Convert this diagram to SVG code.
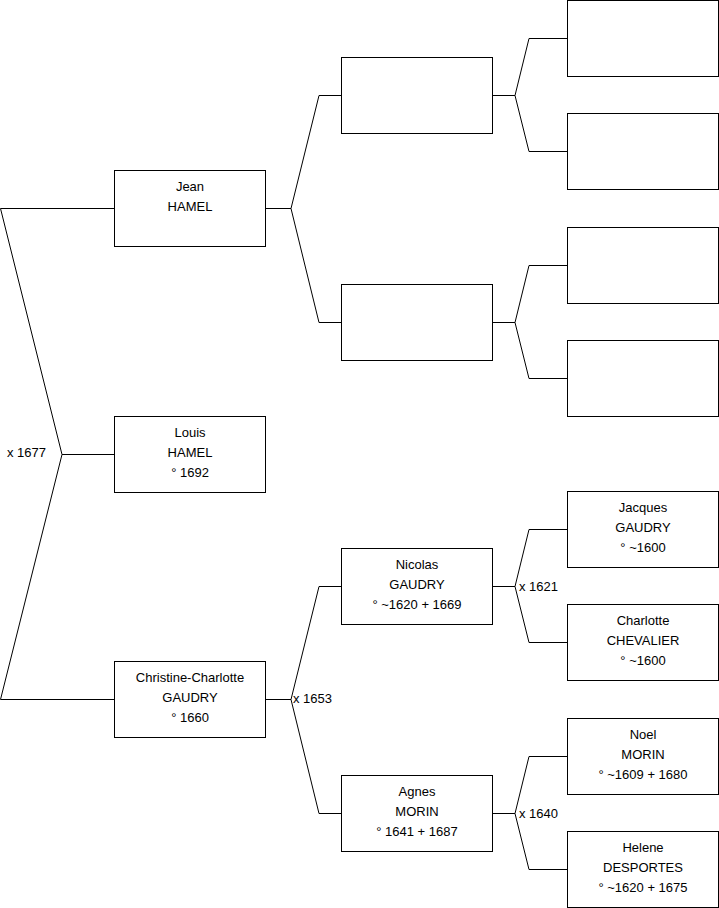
<svg xmlns="http://www.w3.org/2000/svg" width="719" height="908" viewBox="0 0 719 908">
<style>
rect.box{fill:#fff;stroke:#000;stroke-width:1}
.c{fill:none;stroke:#000;stroke-width:1}
text{font-family:"Liberation Sans",Arial,sans-serif;font-size:13px;fill:#000}
.n{text-anchor:middle}
</style>
<rect width="719" height="908" fill="#fff"/>
<g id="connectors">
<polyline class="c" points="114,208.5 0.5,208.5 62,454.5 0.5,699.5 114,699.5"/>
<line class="c" x1="62" y1="454.5" x2="114" y2="454.5"/>
<polyline class="c" points="265,208.5 291,208.5"/>
<polyline class="c" points="341,95.5 319,95.5 291,208.5 319,322.5 341,322.5"/>
<polyline class="c" points="265,699.5 291,699.5"/>
<polyline class="c" points="341,586.5 319,586.5 291,699.5 319,813.5 341,813.5"/>
<line class="c" x1="492" y1="95.5" x2="515" y2="95.5"/>
<polyline class="c" points="567,38.5 529,38.5 515,95.5 529,151.5 567,151.5"/>
<line class="c" x1="492" y1="322.5" x2="515" y2="322.5"/>
<polyline class="c" points="567,265.5 529,265.5 515,322.5 529,378.5 567,378.5"/>
<line class="c" x1="492" y1="586.5" x2="515" y2="586.5"/>
<polyline class="c" points="567,529.5 529,529.5 515,586.5 529,642.5 567,642.5"/>
<line class="c" x1="492" y1="813.5" x2="515" y2="813.5"/>
<polyline class="c" points="567,756.5 529,756.5 515,813.5 529,869.5 567,869.5"/>
<text x="7" y="457">x 1677</text>
<text x="293" y="703">x 1653</text>
<text x="519" y="591">x 1621</text>
<text x="519" y="818">x 1640</text>
</g>
<g id="jean"><rect class="box" x="114.5" y="170.5" width="151" height="76"/><text class="n" x="190" y="191">Jean</text><text class="n" x="190" y="211">HAMEL</text></g>
<g id="louis"><rect class="box" x="114.5" y="416.5" width="151" height="76"/><text class="n" x="190" y="437">Louis</text><text class="n" x="190" y="457">HAMEL</text><text class="n" x="190" y="477">° 1692</text></g>
<g id="christine"><rect class="box" x="114.5" y="661.5" width="151" height="76"/><text class="n" x="190" y="682">Christine-Charlotte</text><text class="n" x="190" y="702">GAUDRY</text><text class="n" x="190" y="722">° 1660</text></g>
<g id="p2a"><rect class="box" x="341.5" y="57.5" width="151" height="76"/></g>
<g id="p2b"><rect class="box" x="341.5" y="284.5" width="151" height="76"/></g>
<g id="nicolas"><rect class="box" x="341.5" y="548.5" width="151" height="76"/><text class="n" x="417" y="569">Nicolas</text><text class="n" x="417" y="589">GAUDRY</text><text class="n" x="417" y="609">° ~1620 + 1669</text></g>
<g id="agnes"><rect class="box" x="341.5" y="775.5" width="151" height="76"/><text class="n" x="417" y="796">Agnes</text><text class="n" x="417" y="816">MORIN</text><text class="n" x="417" y="836">° 1641 + 1687</text></g>
<g id="p3a"><rect class="box" x="567.5" y="0.5" width="151" height="76"/></g>
<g id="p3b"><rect class="box" x="567.5" y="113.5" width="151" height="76"/></g>
<g id="p3c"><rect class="box" x="567.5" y="227.5" width="151" height="76"/></g>
<g id="p3d"><rect class="box" x="567.5" y="340.5" width="151" height="76"/></g>
<g id="jacques"><rect class="box" x="567.5" y="491.5" width="151" height="76"/><text class="n" x="643" y="512">Jacques</text><text class="n" x="643" y="532">GAUDRY</text><text class="n" x="643" y="552">° ~1600</text></g>
<g id="charlotte"><rect class="box" x="567.5" y="604.5" width="151" height="76"/><text class="n" x="643" y="625">Charlotte</text><text class="n" x="643" y="645">CHEVALIER</text><text class="n" x="643" y="665">° ~1600</text></g>
<g id="noel"><rect class="box" x="567.5" y="718.5" width="151" height="76"/><text class="n" x="643" y="739">Noel</text><text class="n" x="643" y="759">MORIN</text><text class="n" x="643" y="779">° ~1609 + 1680</text></g>
<g id="helene"><rect class="box" x="567.5" y="831.5" width="151" height="76"/><text class="n" x="643" y="852">Helene</text><text class="n" x="643" y="872">DESPORTES</text><text class="n" x="643" y="892">° ~1620 + 1675</text></g>
</svg>
